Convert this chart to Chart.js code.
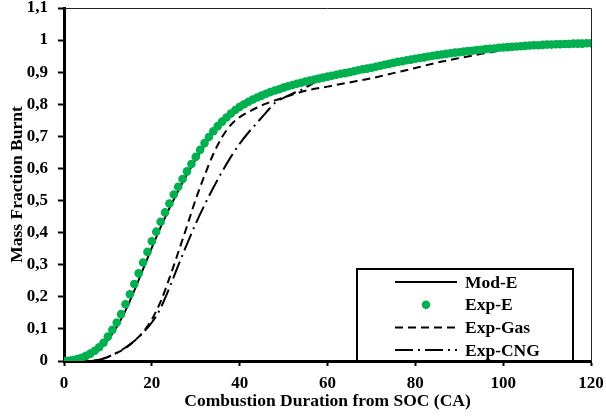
<!DOCTYPE html>
<html>
<head>
<meta charset="utf-8">
<script src="https://cdn.jsdelivr.net/npm/chart.js@4/dist/chart.umd.min.js"></script>
<style>
body { margin: 0; background: #fff; }
</style>
</head>
<body>
<canvas id="mfbChart" width="606" height="417"></canvas>
<script>
// crank angle (CA) and mass fraction burnt

const expE_ca = [
    0, 1, 2, 3, 4, 5, 6, 7, 8, 9,
    10, 11, 12, 13, 14, 15, 16, 17, 18, 19,
    20, 21, 22, 23, 24, 25, 26, 27, 28, 29,
    30, 31, 32, 33, 34, 35, 36, 37, 38, 39,
    40, 41, 42, 43, 44, 45, 46, 47, 48, 49,
    50, 51, 52, 53, 54, 55, 56, 57, 58, 59,
    60, 61, 62, 63, 64, 65, 66, 67, 68, 69,
    70, 71, 72, 73, 74, 75, 76, 77, 78, 79,
    80, 81, 82, 83, 84, 85, 86, 87, 88, 89,
    90, 91, 92, 93, 94, 95, 96, 97, 98, 99,
    100, 101, 102, 103, 104, 105, 106, 107, 108, 109,
    110, 111, 112, 113, 114, 115, 116, 117, 118, 119,
    120
];

const expE_mfb = [
    0.000, 0.001, 0.003, 0.006, 0.010, 0.016, 0.023, 0.032, 0.043, 0.057,
    0.076, 0.097, 0.120, 0.146, 0.177, 0.208, 0.240, 0.273, 0.307, 0.340,
    0.373, 0.403, 0.434, 0.463, 0.491, 0.519, 0.543, 0.567, 0.591, 0.614,
    0.636, 0.658, 0.679, 0.698, 0.716, 0.732, 0.746, 0.759, 0.771, 0.782,
    0.792, 0.800, 0.808, 0.815, 0.821, 0.827, 0.833, 0.838, 0.843, 0.847,
    0.852, 0.856, 0.860, 0.864, 0.867, 0.871, 0.874, 0.877, 0.880, 0.883,
    0.886, 0.889, 0.892, 0.895, 0.897, 0.900, 0.903, 0.906, 0.909, 0.911,
    0.914, 0.917, 0.920, 0.923, 0.926, 0.929, 0.932, 0.934, 0.937, 0.939,
    0.942, 0.944, 0.946, 0.949, 0.951, 0.953, 0.955, 0.957, 0.959, 0.961,
    0.962, 0.964, 0.966, 0.967, 0.969, 0.970, 0.972, 0.973, 0.974, 0.976,
    0.977, 0.978, 0.979, 0.980, 0.981, 0.982, 0.983, 0.984, 0.984, 0.985,
    0.986, 0.986, 0.987, 0.987, 0.988, 0.988, 0.989, 0.989, 0.989, 0.990,
    0.990
];

const modE_ca = [0, 2, 4, 6, 8, 10, 12, 14, 16, 18, 20, 22, 24, 26, 28, 30, 32, 34, 36, 38, 40, 45, 50, 55, 60, 70, 80, 90, 100, 110, 120];
const modE_mfb = [0, 0.002, 0.008, 0.020, 0.038, 0.066, 0.106, 0.157, 0.219, 0.286, 0.353, 0.417, 0.476, 0.530, 0.581, 0.628, 0.672, 0.710, 0.743, 0.769, 0.790, 0.827, 0.852, 0.871, 0.886, 0.914, 0.942, 0.962, 0.977, 0.986, 0.990];

const gas_ca = [0, 6, 8, 10, 12, 14, 16, 18, 20, 22, 24, 26, 28, 30, 32, 34, 36, 38, 40, 42, 44, 46, 48, 50, 55, 60, 65, 70, 75, 80, 85, 90, 95, 100, 105, 110, 115, 118];
const gas_mfb = [0, 0, 0.004, 0.012, 0.025, 0.040, 0.062, 0.090, 0.130, 0.185, 0.258, 0.338, 0.420, 0.504, 0.578, 0.645, 0.698, 0.736, 0.760, 0.776, 0.790, 0.802, 0.812, 0.821, 0.842, 0.855, 0.868, 0.881, 0.897, 0.913, 0.930, 0.944, 0.957, 0.969, 0.980, 0.989, 0.995, 0.997];

const cng_ca = [0, 6, 8, 10, 12, 14, 16, 18, 20, 22, 24, 26, 28, 30, 32, 34, 36, 38, 40, 42, 44, 46, 48, 50, 52, 54, 56, 58, 60, 65, 70, 80, 90, 100, 105, 110, 115, 118];
const cng_mfb = [0, 0, 0.004, 0.013, 0.026, 0.042, 0.062, 0.088, 0.120, 0.165, 0.228, 0.297, 0.364, 0.428, 0.486, 0.540, 0.590, 0.636, 0.677, 0.712, 0.743, 0.774, 0.804, 0.820, 0.833, 0.845, 0.860, 0.875, 0.884, 0.900, 0.914, 0.942, 0.962, 0.977, 0.984, 0.992, 0.996, 0.998];

const xTicks = [0, 20, 40, 60, 80, 100, 120];

const serif = "'Liberation Serif', 'Times New Roman', serif";
const green = "#00B050";

function toPoints(xs, ys) {
    return xs.map((x, i) => ({ x: x, y: ys[i] }));
}

// legend box sitting on the x axis, bottom right
const boxLegend = {
    id: "boxLegend",
    afterDraw(chart) {
        const ctx = chart.ctx;
        const area = chart.chartArea;

        // thin frame on top and right
        ctx.save();
        ctx.strokeStyle = "#222";
        ctx.lineWidth = 1;
        ctx.beginPath();
        ctx.moveTo(area.left, area.top + 0.5);
        ctx.lineTo(area.right + 0.5, area.top + 0.5);
        ctx.lineTo(area.right + 0.5, area.bottom);
        ctx.stroke();

        const w = 216, h = 92;
        const bx = area.right - 18 - w;
        const by = area.bottom - h;
        ctx.fillStyle = "#fff";
        ctx.fillRect(bx, by, w, h);
        ctx.strokeStyle = "#000";
        ctx.lineWidth = 2;
        ctx.strokeRect(bx, by, w, h);

        ctx.font = "bold 17.5px " + serif;
        ctx.textBaseline = "middle";
        ctx.textAlign = "left";

        chart.data.datasets.forEach((ds, i) => {
            const y = by + 13 + i * 22.7;
            const x0 = bx + 38, x1 = bx + 100;
            if (ds.showLine === false) {
                ctx.fillStyle = ds.pointBackgroundColor;
                ctx.beginPath();
                ctx.arc((x0 + x1) / 2, y, 4.3, 0, Math.PI * 2);
                ctx.fill();
            } else {
                ctx.strokeStyle = ds.borderColor;
                ctx.lineWidth = ds.borderWidth;
                ctx.setLineDash(ds.borderDash || []);
                ctx.beginPath();
                ctx.moveTo(x0, y);
                ctx.lineTo(x1, y);
                ctx.stroke();
                ctx.setLineDash([]);
            }
            ctx.fillStyle = "#000";
            ctx.fillText(ds.label, bx + 108, y + 1);
        });
        ctx.restore();
    }
};

const chartCanvas = document.getElementById("mfbChart");

new Chart(chartCanvas.getContext("2d"), {

    type: "line",

    data: {
        datasets: [
            {
                label: "Mod-E",
                data: toPoints(modE_ca, modE_mfb),
                borderColor: "#000",
                borderWidth: 2,
                pointRadius: 0,
                cubicInterpolationMode: "monotone",
                order: 1
            },
            {
                label: "Exp-E",
                data: toPoints(expE_ca, expE_mfb),
                showLine: false,
                pointRadius: 4.3,
                pointBorderWidth: 0,
                pointBackgroundColor: green,
                pointBorderColor: green,
                order: 0
            },
            {
                label: "Exp-Gas",
                data: toPoints(gas_ca, gas_mfb),
                borderColor: "#000",
                borderWidth: 2,
                borderDash: [8, 5],
                pointRadius: 0,
                cubicInterpolationMode: "monotone",
                order: 2
            },
            {
                label: "Exp-CNG",
                data: toPoints(cng_ca, cng_mfb),
                borderColor: "#000",
                borderWidth: 2,
                borderDash: [18, 5, 2, 5],
                pointRadius: 0,
                cubicInterpolationMode: "monotone",
                order: 3
            }
        ]
    },

    options: {
        responsive: false,
        animation: false,
        layout: {
            padding: { top: 8, right: 15, left: 0, bottom: 0 }
        },
        plugins: {
            legend: { display: false },
            tooltip: { enabled: false }
        },
        scales: {
            x: {
                type: "linear",
                min: 0,
                max: 120,
                afterFit(scale) {
                    scale.height = 56;
                    scale.paddingLeft = 0;
                    scale.paddingRight = 0;
                },
                afterBuildTicks(scale) {
                    scale.ticks = xTicks.map(v => ({ value: v }));
                },
                border: { display: true, width: 3, color: "#000" },
                grid: {
                    drawOnChartArea: false,
                    drawTicks: true,
                    tickLength: 5,
                    tickWidth: 2,
                    tickColor: "#000"
                },
                ticks: {
                    color: "#000",
                    padding: 7,
                    maxRotation: 0,
                    autoSkip: false,
                    font: { family: serif, size: 17, weight: "bold" }
                },
                title: {
                    display: true,
                    text: "Combustion Duration from SOC (CA)",
                    color: "#000",
                    padding: { top: 0, bottom: 5 },
                    font: { family: serif, size: 17.5, weight: "bold" }
                }
            },
            y: {
                min: 0,
                max: 1.1,
                afterFit(scale) {
                    scale.width = 64;
                    scale.paddingTop = 0;
                    scale.paddingBottom = 0;
                },
                border: { display: true, width: 3, color: "#000" },
                grid: {
                    drawOnChartArea: false,
                    drawTicks: true,
                    tickLength: 6,
                    tickWidth: 2,
                    tickColor: "#000"
                },
                ticks: {
                    stepSize: 0.1,
                    color: "#000",
                    padding: 10,
                    font: { family: serif, size: 17, weight: "bold" },
                    callback: value => String(Math.round(value * 10) / 10).replace(".", ",")
                },
                title: {
                    display: true,
                    text: "Mass Fraction Burnt",
                    color: "#000",
                    padding: { top: 7, bottom: 0 },
                    font: { family: serif, size: 17.5, weight: "bold" }
                }
            }
        }
    },

    plugins: [boxLegend]

});
</script>
</body>
</html>
